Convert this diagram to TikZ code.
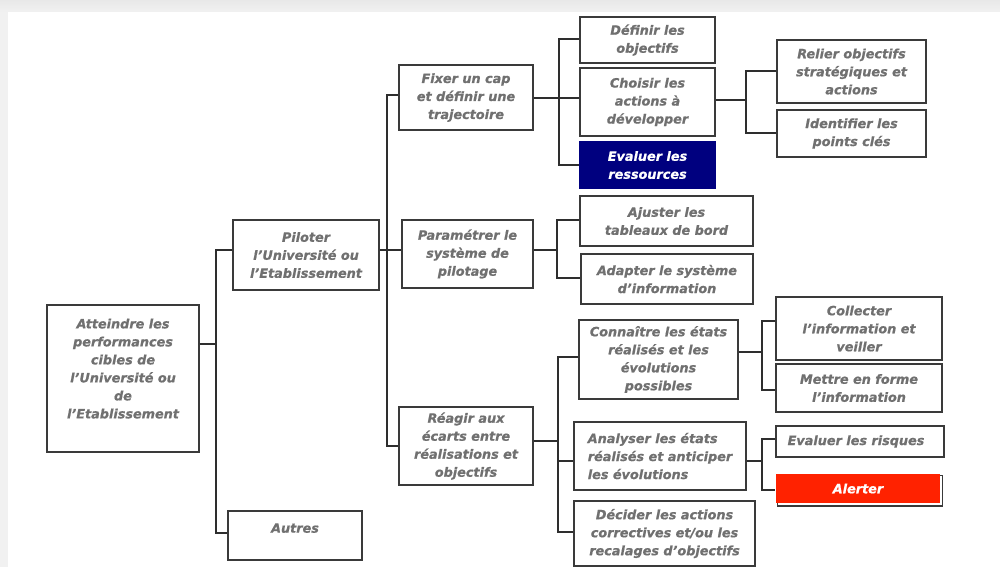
\documentclass[tikz,border=0pt]{standalone}
\usepackage{fontspec}
\setmainfont{DejaVu Sans}
\newfontfamily\boxfont{DejaVu Sans}[UprightFont=* Bold Oblique, FakeBold=0.7]
\usetikzlibrary{backgrounds}
\definecolor{txtgray}{HTML}{707070}
\definecolor{boxgray}{HTML}{3A3A3A}
\definecolor{linegray}{HTML}{2E2E2E}
\definecolor{pagegray}{HTML}{F1F1F1}
\definecolor{navyfill}{HTML}{00007F}
\definecolor{alertred}{HTML}{FF2200}
\begin{document}
\begin{tikzpicture}[x=1pt,y=-1pt,
  box/.style={draw=boxgray, line width=1.2pt, fill=white, align=center,
    font=\boxfont\fontsize{12.8pt}{18pt}\selectfont, text=txtgray, inner sep=2pt},
  darkbox/.style={box, draw=navyfill, fill=navyfill, text=white},
  alertbox/.style={box, draw=none, fill=alertred, text=white},
  lk/.style={draw=linegray, line width=1.2pt}]
\useasboundingbox (0,0) rectangle (1000,567);

% sheet of paper on a grey desk
\begin{scope}[on background layer]
  \fill[pagegray] (0,0) rectangle (1000,567);
  \shade[top color=black!9, bottom color=pagegray] (0,0) rectangle (1000,12);
  \fill[white] (8,12) rectangle (1000,567);
\end{scope}

% level 0 and 1
\node[box, minimum width=152, minimum height=147, text depth=20pt] (root) at (123,378.5)
  {Atteindre les\\performances\\cibles de\\l’Université ou\\de\\l’Etablissement};
\node[box, minimum width=146, minimum height=70] (piloter) at (306,255)
  {Piloter\\l’Université ou\\l’Etablissement};
\node[box, minimum width=134, minimum height=49, text depth=15pt] (autres) at (295,535.5) {Autres};

% level 2
\node[box, minimum width=134, minimum height=65] (fixer) at (466,97.5)
  {Fixer un cap\\et définir une\\trajectoire};
\node[box, minimum width=131, minimum height=68] (param) at (467.5,254)
  {Paramétrer le\\système de\\pilotage};
\node[box, minimum width=134, minimum height=78] (reagir) at (466,446)
  {Réagir aux\\écarts entre\\réalisations et\\objectifs};

% level 3
\node[box, minimum width=135, minimum height=46] (definir) at (647.5,40) {Définir les\\objectifs};
\node[box, minimum width=135, minimum height=68] (choisir) at (647.5,102) {Choisir les\\actions à\\développer};
\node[darkbox, minimum width=135, minimum height=46] (evalres) at (647.5,165) {Evaluer les\\ressources};
\node[box, minimum width=173, minimum height=50] (ajuster) at (666.5,221) {Ajuster les\\tableaux de bord};
\node[box, minimum width=172, minimum height=50] (adapter) at (667,279) {Adapter le système\\d’information};
\node[box, minimum width=159, minimum height=79] (connaitre) at (658.5,359.5)
  {Connaître les états\\réalisés et les\\évolutions\\possibles};
\node[box, align=left, minimum width=172, minimum height=68] (analyser) at (660,456)
  {Analyser les états\\réalisés et anticiper\\les évolutions};
\node[box, minimum width=181, minimum height=65] (decider) at (664.5,533.5)
  {Décider les actions\\correctives et/ou les\\recalages d’objectifs};

% level 4
\node[box, minimum width=149, minimum height=63] (relier) at (851.5,71.5) {Relier objectifs\\stratégiques et\\actions};
\node[box, minimum width=149, minimum height=47] (identifier) at (851.5,133.5) {Identifier les\\points clés};
\node[box, minimum width=166, minimum height=63] (collecter) at (859,328.5) {Collecter\\l’information et\\veiller};
\node[box, minimum width=166, minimum height=48] (mettre) at (859,388) {Mettre en forme\\l’information};
\node[box, minimum width=168, minimum height=31] (risques) at (860,441.5) {Evaluer les risques\hspace{8pt}};
\node[alertbox, minimum width=164, minimum height=29] (alerter) at (858,488.5) {Alerter};
\begin{scope}[on background layer]
  \draw[boxgray, line width=1.3pt, fill=white]
    ([shift={(2,2)}]alerter.north west) rectangle ([shift={(2,2.5)}]alerter.south east);
\end{scope}

% bus junctions
\coordinate (b1m) at (216,344); \coordinate (b1t) at (216,250); \coordinate (b1b) at (216,533);
\coordinate (b2m) at (387,250); \coordinate (b2t) at (387,95);  \coordinate (b2b) at (387,446);
\coordinate (b3m) at (559,98);  \coordinate (b3t) at (559,39);  \coordinate (b3b) at (559,165);
\coordinate (b4m) at (557,250); \coordinate (b4t) at (557,220); \coordinate (b4b) at (557,278);
\coordinate (b5m) at (558,441); \coordinate (b5t) at (558,357); \coordinate (b5a) at (558,461);
\coordinate (b5b) at (558,532);
\coordinate (b6m) at (746,100); \coordinate (b6t) at (746,71);  \coordinate (b6b) at (746,133);
\coordinate (b7m) at (762,352); \coordinate (b7t) at (762,321); \coordinate (b7b) at (762,390);
\coordinate (b8m) at (762,461); \coordinate (b8t) at (762,439); \coordinate (b8b) at (762,490);

% connectors
\draw[lk] (b1m -| root.east) -- (b1m);
\draw[lk] (b1t -| piloter.west) -- (b1t) -- (b1b) -- (b1b -| autres.west);
\draw[lk] (b2m -| piloter.east) -- (b2m -| param.west);
\draw[lk] (b2t -| fixer.west) -- (b2t) -- (b2b) -- (b2b -| reagir.west);
\draw[lk] (b3m -| fixer.east) -- (b3m -| choisir.west);
\draw[lk] (b3t -| definir.west) -- (b3t) -- (b3b) -- (b3b -| evalres.west);
\draw[lk] (b4m -| param.east) -- (b4m);
\draw[lk] (b4t -| ajuster.west) -- (b4t) -- (b4b) -- (b4b -| adapter.west);
\draw[lk] (b5m -| reagir.east) -- (b5m);
\draw[lk] (b5t -| connaitre.west) -- (b5t) -- (b5b) -- (b5b -| decider.west);
\draw[lk] (b5a) -- (b5a -| analyser.west);
\draw[lk] (b6m -| choisir.east) -- (b6m);
\draw[lk] (b6t -| relier.west) -- (b6t) -- (b6b) -- (b6b -| identifier.west);
\draw[lk] (b7m -| connaitre.east) -- (b7m);
\draw[lk] (b7t -| collecter.west) -- (b7t) -- (b7b) -- (b7b -| mettre.west);
\draw[lk] (b8m -| analyser.east) -- (b8m);
\draw[lk] (b8t -| risques.west) -- (b8t) -- (b8b) -- (b8b -| alerter.west);
\end{tikzpicture}
\end{document}
